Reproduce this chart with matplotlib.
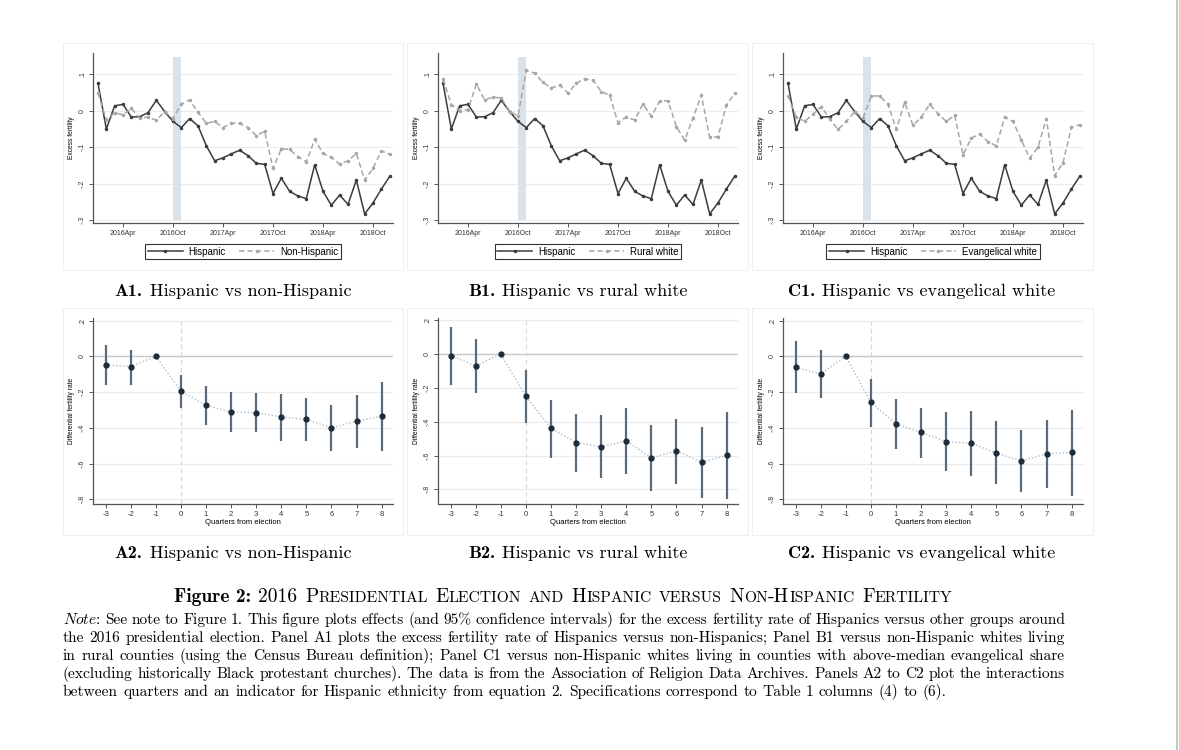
import matplotlib
matplotlib.use("Agg")
import matplotlib.pyplot as plt
import numpy as np
from matplotlib.offsetbox import TextArea, HPacker, AnnotationBbox
from matplotlib.patches import Rectangle
from matplotlib.lines import Line2D
from matplotlib.font_manager import FontProperties

plt.rcParams["font.family"] = ["Liberation Sans", "DejaVu Sans"]
plt.rcParams["mathtext.fontset"] = "cm"

W, H = 1179, 750

# ---- top row: monthly excess fertility, Jan 2016 .. Dec 2018
months = np.arange(36)
month_ticks = [3, 9, 15, 21, 27, 33]
month_labels = ["2016Apr", "2016Oct", "2017Apr", "2017Oct", "2018Apr", "2018Oct"]

hispanic = [0.076, -0.050, 0.014, 0.018, -0.017, -0.016, -0.005, 0.029, -0.002, -0.029,
            -0.046, -0.021, -0.041, -0.096, -0.137, -0.129, -0.118, -0.108, -0.123, -0.144,
            -0.147, -0.227, -0.185, -0.221, -0.234, -0.241, -0.148, -0.221, -0.259, -0.231,
            -0.257, -0.190, -0.283, -0.253, -0.215, -0.180]
non_hispanic = [0.049, -0.025, -0.005, -0.011, 0.007, -0.020, -0.017, -0.026, -0.002, -0.021,
                0.019, 0.030, -0.004, -0.034, -0.029, -0.046, -0.034, -0.034, -0.046, -0.068,
                -0.056, -0.158, -0.104, -0.106, -0.126, -0.140, -0.078, -0.117, -0.128, -0.146,
                -0.137, -0.117, -0.190, -0.158, -0.110, -0.119]
rural_white = [0.087, 0.017, 0.001, 0.003, 0.074, 0.030, 0.038, 0.035, -0.002, -0.014,
               0.111, 0.104, 0.078, 0.063, 0.071, 0.049, 0.076, 0.088, 0.084, 0.053,
               0.043, -0.032, -0.017, -0.025, 0.019, -0.015, 0.026, 0.028, -0.043, -0.080,
               -0.020, 0.044, -0.073, -0.071, 0.015, 0.049]
evangelical_white = [0.041, -0.017, -0.029, -0.009, 0.012, -0.022, -0.051, -0.029, -0.002, -0.019,
                     0.041, 0.041, 0.018, -0.051, 0.024, -0.040, -0.017, 0.018, -0.008, -0.029,
                     -0.012, -0.121, -0.075, -0.063, -0.085, -0.096, -0.017, -0.029, -0.080, -0.130,
                     -0.100, -0.021, -0.178, -0.143, -0.045, -0.038]

# ---- bottom row: quarter coefficients with 95% CI (quarter -1 is the reference)
quarters = [-3, -2, -1, 0, 1, 2, 3, 4, 5, 6, 7, 8]
a2_coef = [-0.048, -0.058, 0, -0.195, -0.275, -0.311, -0.316, -0.339, -0.353, -0.400, -0.363, -0.335]
a2_lo = [-0.162, -0.158, np.nan, -0.288, -0.383, -0.422, -0.426, -0.471, -0.474, -0.530, -0.513, -0.530]
a2_hi = [0.065, 0.037, np.nan, -0.106, -0.167, -0.200, -0.205, -0.209, -0.236, -0.270, -0.218, -0.143]
b2_coef = [-0.008, -0.069, 0, -0.250, -0.438, -0.523, -0.549, -0.513, -0.614, -0.572, -0.640, -0.598]
b2_lo = [-0.180, -0.230, np.nan, -0.408, -0.612, -0.695, -0.735, -0.709, -0.808, -0.768, -0.850, -0.855]
b2_hi = [0.160, 0.091, np.nan, -0.093, -0.269, -0.352, -0.360, -0.319, -0.418, -0.382, -0.434, -0.345]
c2_coef = [-0.062, -0.099, 0, -0.258, -0.378, -0.426, -0.477, -0.486, -0.542, -0.585, -0.546, -0.538]
c2_lo = [-0.206, -0.234, np.nan, -0.393, -0.520, -0.570, -0.639, -0.667, -0.716, -0.757, -0.738, -0.779]
c2_hi = [0.088, 0.034, np.nan, -0.125, -0.237, -0.290, -0.314, -0.308, -0.364, -0.411, -0.355, -0.299]

captions_top = [("A1.", "Hispanic vs non-Hispanic"), ("B1.", "Hispanic vs rural white"),
                ("C1.", "Hispanic vs evangelical white")]
captions_bottom = [("A2.", "Hispanic vs non-Hispanic"), ("B2.", "Hispanic vs rural white"),
                   ("C2.", "Hispanic vs evangelical white")]

note_lines = [
    r"$\mathit{Note}$: See note to Figure 1. This figure plots effects (and 95% confidence intervals) for the excess fertility rate of Hispanics versus other groups around",
    "the 2016 presidential election. Panel A1 plots the excess fertility rate of Hispanics versus non-Hispanics; Panel B1 versus non-Hispanic whites living",
    "in rural counties (using the Census Bureau definition); Panel C1 versus non-Hispanic whites living in counties with above-median evangelical share",
    "(excluding historically Black protestant churches). The data is from the Association of Religion Data Archives. Panels A2 to C2 plot the interactions",
    "between quarters and an indicator for Hispanic ethnicity from equation 2. Specifications correspond to Table 1 columns (4) to (6).",
]

fig = plt.figure(figsize=(W / 100, H / 100), dpi=100)
renderer = fig.canvas.get_renderer()


def px_axes(x0, y0, x1, y1):
    return fig.add_axes([x0 / W, 1 - y1 / H, (x1 - x0) / W, (y1 - y0) / H])


def style_axes(ax):
    for s in ["top", "right"]:
        ax.spines[s].set_visible(False)
    for s in ["left", "bottom"]:
        ax.spines[s].set_color("#555555")
        ax.spines[s].set_linewidth(0.9)
    ax.tick_params(colors="#555555", labelcolor="#333333", length=3, width=0.7, pad=2)
    ax.grid(axis="y", color="#ececec", lw=0.8)
    ax.set_axisbelow(True)


# faint panel frames and page edge
for x0, x1 in [(63, 403), (407, 748), (752, 1093)]:
    for y0, y1 in [(43, 270), (308, 535)]:
        fig.add_artist(Rectangle((x0 / W, 1 - y1 / H), (x1 - x0) / W, (y1 - y0) / H,
                                 transform=fig.transFigure, fill=False, ec="#f0f0f0", lw=0.8))
fig.add_artist(Line2D([1177 / W, 1177 / W], [0, 1], transform=fig.transFigure, color="#c8c8c8", lw=1.5))

# top row
for x0, other, lab in [(93, non_hispanic, "Non-Hispanic"), (438, rural_white, "Rural white"),
                       (783, evangelical_white, "Evangelical white")]:
    ax = px_axes(x0, 53, x0 + 300, 223)
    style_axes(ax)
    ax.fill_betweenx([-0.3, 0.148], 9, 10, color="#dbe3ea", lw=0)
    ax.plot(months, hispanic, "-", color="#3c3c3c", lw=1.1, marker="o", ms=1.5, label="Hispanic")
    ax.plot(months, other, color="#a6a6a6", lw=1.1, ls=(0, (3.5, 2)), marker="o", ms=1.5, label=lab)
    ax.set_xlim(-0.6, 35.4)
    ax.set_ylim(-0.308, 0.159)
    ax.set_xticks(month_ticks)
    ax.set_xticklabels(month_labels, fontsize=5)
    ax.set_yticks([0.1, 0, -0.1, -0.2, -0.3])
    ax.set_yticklabels([".1", "0", "-.1", "-.2", "-.3"], fontsize=5, rotation=90, va="center")
    ax.set_ylabel("Excess fertility", fontsize=4.8, labelpad=3)
    leg = ax.legend(loc="center", bbox_to_anchor=(0.5, -0.168), ncol=2, fontsize=7,
                    handlelength=3.6, numpoints=1, fancybox=False, edgecolor="#333333",
                    borderpad=0.3, columnspacing=1.4, handletextpad=0.6, framealpha=1)
    leg.get_frame().set_linewidth(0.8)

# bottom row
for x0, coef, lo, hi, ybot in [(93, a2_coef, a2_lo, a2_hi, -0.826), (438, b2_coef, b2_lo, b2_hi, -0.887),
                               (783, c2_coef, c2_lo, c2_hi, -0.826)]:
    ax = px_axes(x0, 318, x0 + 300, 504)
    style_axes(ax)
    ax.axhline(0, color="#c9c9c9", lw=1.0)
    ax.axvline(0, color="#ddd3d3", lw=0.8, ls=(0, (4, 3)))
    ax.plot(quarters, coef, ls=(0, (1, 1.5)), color="#a9bfcd", lw=1.0)
    ax.vlines(quarters, lo, hi, color="#5b6b7a", lw=1.6)
    ax.plot(quarters, coef, "o", color="#1d2c3b", ms=3.5)
    ax.set_xlim(-3.5, 8.45)
    ax.set_ylim(ybot, 0.214)
    ax.set_xticks(quarters)
    ax.set_xticklabels([str(q) for q in quarters], fontsize=5.5)
    ax.set_yticks([0.2, 0, -0.2, -0.4, -0.6, -0.8])
    ax.set_yticklabels([".2", "0", "-.2", "-.4", "-.6", "-.8"], fontsize=5, rotation=90, va="center")
    ax.set_ylabel("Differential fertility rate", fontsize=4.8, labelpad=3)
    ax.set_xlabel("Quarters from election", fontsize=5.5, labelpad=1)


def place_box(children, cx, y_bottom, sep=0):
    box = HPacker(children=children, align="baseline", pad=0, sep=sep)
    fig.add_artist(AnnotationBbox(box, (cx, H - y_bottom), xycoords="figure pixels",
                                  frameon=False, box_alignment=(0.5, 0.0), pad=0))


# panel captions
for row, ybot in [(captions_top, 299), (captions_bottom, 561)]:
    for (tag, txt), cx in zip(row, [233, 578, 922]):
        place_box([TextArea(tag, textprops=dict(family="cmb10", size=13.1)),
                   TextArea(txt, textprops=dict(family="cmr10", size=13.1))], cx, ybot, sep=5)

# figure title in small caps
title_words = "2016 Presidential Election and Hispanic versus Non-Hispanic Fertility".split()
parts = [TextArea("Figure 2:", textprops=dict(family="cmb10", size=14))]
for word in title_words:
    runs, cur, cur_low = [], "", None
    for ch in word:
        low = ch.islower()
        if cur and low != cur_low:
            runs.append((cur, cur_low))
            cur = ""
        cur += ch
        cur_low = low
    runs.append((cur, cur_low))
    kids = [TextArea(r.upper(), textprops=dict(family="cmr10", size=11.2 if low else 14)) for r, low in runs]
    parts.append(HPacker(children=kids, align="baseline", pad=0, sep=0))
place_box(parts, 563, 606, sep=5.5)

# note, justified between x=63 and x=1065
probe = fig.text(0, 0, note_lines[-1], family="cmr10", fontsize=10)
note_size = 10 * 882 / probe.get_window_extent(renderer).width
probe.remove()
note_font = FontProperties(family="cmr10", size=note_size)
for i, line in enumerate(note_lines):
    ybase = 624 + 18 * i
    words = line.split(" ")
    arts, widths = [], []
    for w in words:
        # agg snaps each word's bitmap to whole pixels; undo that so baselines line up
        shift = 0
        if "$" not in w:
            _, th, td = renderer.get_text_width_height_descent(w, note_font, ismath=False)
            shift = round(td) - np.floor(th) + np.floor(th - td)
        a = fig.text(0, 1 - (ybase - shift) / H, w, fontproperties=note_font, va="baseline")
        arts.append(a)
        widths.append(a.get_window_extent(renderer).width)
    if i < len(note_lines) - 1:
        gap = (1065 - 63 - sum(widths)) / (len(words) - 1)
    else:
        gap = note_size * 100 / 72 * 0.333
    x = 63
    for a, wd in zip(arts, widths):
        a.set_x(x / W)
        x += wd + gap

fig.savefig("out.png", dpi=100, facecolor="white")
